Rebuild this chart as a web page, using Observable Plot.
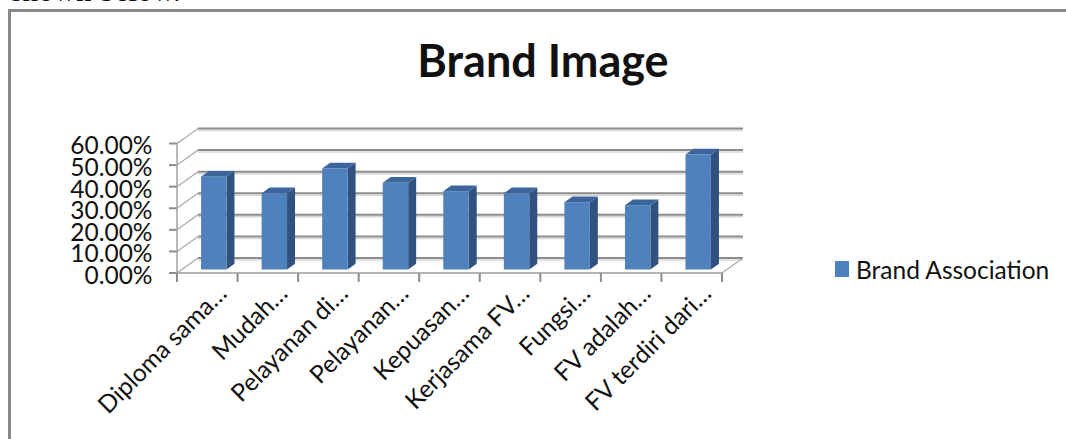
<!DOCTYPE html>
<html><head><meta charset="utf-8">
<script src="https://cdn.jsdelivr.net/npm/d3@7"></script>
<script src="https://cdn.jsdelivr.net/npm/@observablehq/plot@0.6"></script>
<style>
html,body{margin:0;padding:0;background:#fff;overflow:hidden}
#wrap{position:relative;width:1066px;height:439px;overflow:hidden}
#border{position:absolute;left:8px;top:9px;right:0;bottom:-10px;border-left:3px solid #888;border-top:3px solid #888}
#legend{position:absolute;left:835px;top:255px;font:24.5px Lato,sans-serif;color:#111;white-space:nowrap;display:flex;align-items:center;height:28px}
#legend i{display:inline-block;width:14px;height:16px;background:#4f81bd;margin-right:7px}
svg{position:absolute;left:0;top:0}
</style></head><body>
<div id="wrap"><div id="border"></div><div id="legend"><i></i><span id="legendText"></span></div></div>
<script>
const categories = ["Diploma sama…","Mudah…","Pelayanan di…","Pelayanan…","Kepuasan…","Kerjasama FV…","Fungsi…","FV adalah…","FV terdiri dari…"];
const values = [43.0,35.3,46.8,40.2,36.3,35.3,31.2,29.8,53.3];
const yTicks = [0,10,20,30,40,50,60];
const seriesName = "Brand Association";
const titleText = "Brand Image";
const cutOffText = "shown below.";

const data = categories.map((c,i)=>({c,v:values[i]}));
const depthX = 21, depthY = -15;

function walls(index, {x,y}, channels, dims){
  const ns = d3.create("svg:g");
  const l = dims.marginLeft, r = dims.width - dims.marginRight;
  const step = x(categories[1]) - x(categories[0]);
  const line = (x1,y1,x2,y2,stroke,w)=>ns.append("line").attr("x1",x1).attr("y1",y1).attr("x2",x2).attr("y2",y2).attr("stroke",stroke).attr("stroke-width",w);
  for (const t of yTicks) {
    const Y = y(t);
    line(l+depthX,Y+depthY+2,r+depthX,Y+depthY+2,"#d8d8d8",1.5);
    line(l+depthX,Y+depthY,r+depthX,Y+depthY,"#8c8c8c",2);
    line(l,Y,l+depthX,Y+depthY,"#a8a8a8",1.2);
    line(l-8,Y,l,Y,"#8c8c8c",2);
  }
  line(l,y(0),l,y(60),"#a0a0a0",1.5);
  line(r,y(0),r+depthX,y(0)+depthY,"#a8a8a8",1.2);
  line(l,y(0),r,y(0),"#b4b4b4",2);
  for (let i=0;i<=categories.length;i++) line(l+i*step,y(0),l+i*step,y(0)+9,"#8c8c8c",2);
  return ns.node();
}

const bars3d = {
  render(index, scales, ch, dims, ctx, next){
    const g = next(index, scales, ch, dims, ctx);
    d3.select(g).selectAll("rect").each(function(){
      const b = this;
      const X = +b.getAttribute("x"), W = +b.getAttribute("width"), Y = +b.getAttribute("y"), H = +b.getAttribute("height");
      const sx = 8, sy = -5.7;
      const x0 = X, x1 = x0+W, y0 = Y, y1 = y0+H;
      const parent = d3.select(b.parentNode);
      parent.insert("path","rect").attr("d",`M${x1},${y0}L${x1+sx},${y0+sy}L${x1+sx},${y1+sy}L${x1},${y1}Z`).attr("fill","#31527e");
      parent.insert("path","rect").attr("d",`M${x0},${y0}L${x0+sx},${y0+sy}L${x1+sx},${y0+sy}L${x1},${y0}Z`).attr("fill","#3b659b");
    });
    return g;
  }
};

const chart = Plot.plot({
  width:1066, height:439,
  marginLeft:177, marginRight:344, marginTop:143.5, marginBottom:166,
  style:{background:"transparent",overflow:"visible"},
  x:{domain:categories, paddingInner:0.58, paddingOuter:0.29, round:false, label:null},
  y:{domain:[0,60], label:null},
  marks:[
    walls,
    Plot.barY(data,{x:"c",y:"v",fill:"#4f81bd",dx:6.5,dy:-3.5,...bars3d}),
    Plot.axisY({ticks:yTicks,tickFormat:d=>d.toFixed(2)+"%",tickSize:0,tickPadding:25,dy:2.5,fontSize:24.5,fontFamily:"Lato",fill:"#111",label:null}),
    Plot.axisX({tickSize:0,tickRotate:-45,tickPadding:16,dx:15,fontSize:24.5,fontFamily:"Lato",fill:"#111",label:null}),
    Plot.text([titleText],{frameAnchor:"top",text:d=>d,dx:93,dy:-99,fontSize:45,fontWeight:700,fontFamily:"Lato",fill:"#111"}),
    Plot.text([cutOffText],{frameAnchor:"top-left",text:d=>d,dx:-167,dy:-165,fontSize:31,fontFamily:"Liberation Serif",fill:"#111",textAnchor:"start"})
  ]
});
document.getElementById("wrap").appendChild(chart);
document.getElementById("legendText").textContent = seriesName;
</script>
</body></html>
